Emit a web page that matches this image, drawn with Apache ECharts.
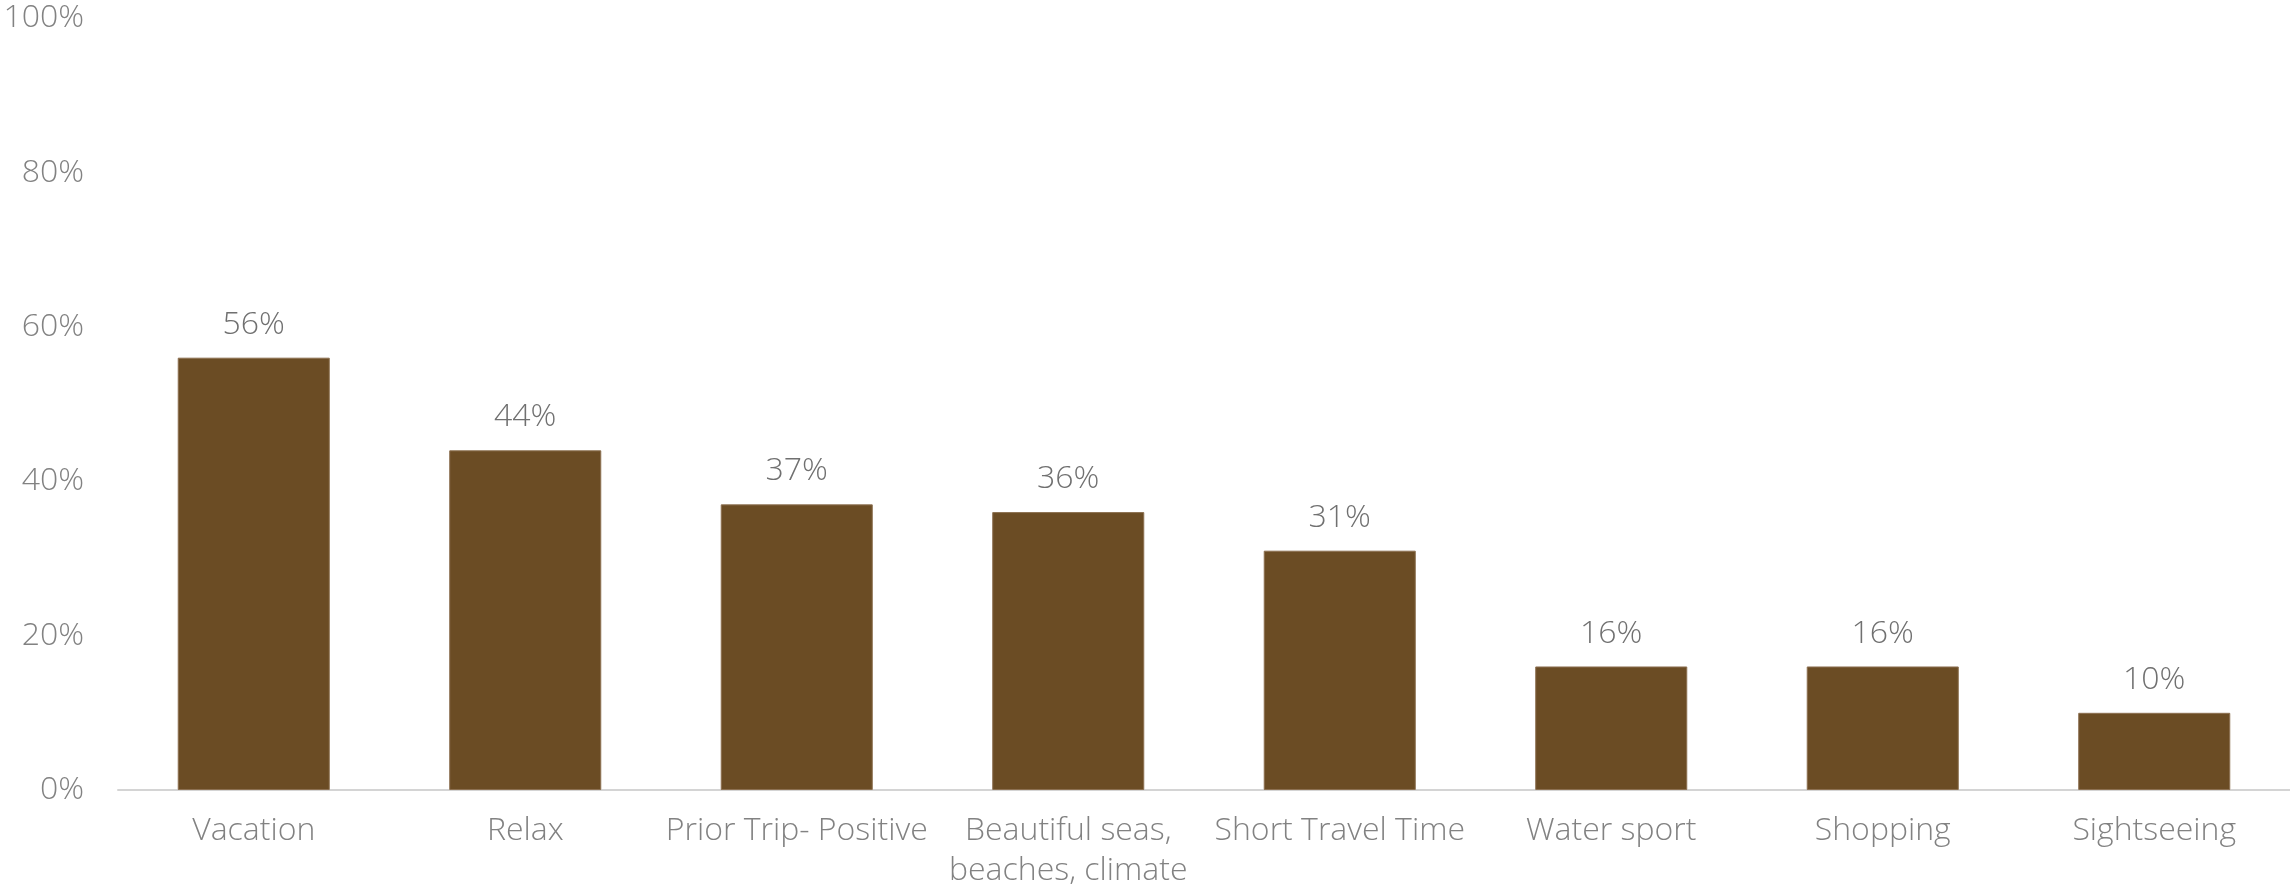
<!DOCTYPE html>
<html>
<head>
<meta charset="utf-8">
<script src="https://cdn.jsdelivr.net/npm/echarts@6/dist/echarts.min.js"></script>
<style>
  html, body { margin: 0; padding: 0; background: #ffffff; }
  #chart { width: 2290px; height: 894px; }
</style>
</head>
<body>
<div id="chart"></div>
<script>
// Reasons for choosing the destination (share of respondents)
const categories = [
  'Vacation',
  'Relax',
  'Prior Trip- Positive',
  'Beautiful seas,\nbeaches, climate',
  'Short Travel Time',
  'Water sport',
  'Shopping',
  'Sightseeing'
];
const shares = [56, 44, 37, 36, 31, 16, 16, 10];

const FONT = '"Open Sans", Lato, sans-serif';
const WEIGHT = 300;

const chart = echarts.init(document.getElementById('chart'), null, { renderer: 'canvas' });
chart.setOption({
  animation: false,
  backgroundColor: '#ffffff',
  grid: { left: 118, right: 0, top: 18, bottom: 104, containLabel: false },
  xAxis: {
    type: 'category',
    data: categories,
    axisLine: { show: true, lineStyle: { color: '#d4d4d4', width: 2 } },
    axisTick: { show: false },
    axisLabel: {
      interval: 0,
      color: '#828282',
      fontFamily: FONT,
      fontWeight: WEIGHT,
      fontSize: 32,
      lineHeight: 40,
      margin: 21
    }
  },
  yAxis: {
    type: 'value',
    min: 0,
    max: 100,
    interval: 20,
    splitLine: { show: false },
    axisLine: { show: false },
    axisTick: { show: false },
    axisLabel: {
      color: '#828282',
      fontFamily: FONT,
      fontWeight: WEIGHT,
      fontSize: 32,
      margin: 34,
      formatter: v => v + '%'
    }
  },
  series: [{
    type: 'bar',
    data: shares,
    barWidth: '56%',
    itemStyle: { color: '#6b4c24', borderColor: '#8c7051', borderWidth: 1 },
    label: {
      show: true,
      position: 'top',
      distance: 17,
      color: '#707070',
      fontFamily: FONT,
      fontWeight: WEIGHT,
      fontSize: 32,
      formatter: p => p.value + '%'
    }
  }]
});
</script>
</body>
</html>
